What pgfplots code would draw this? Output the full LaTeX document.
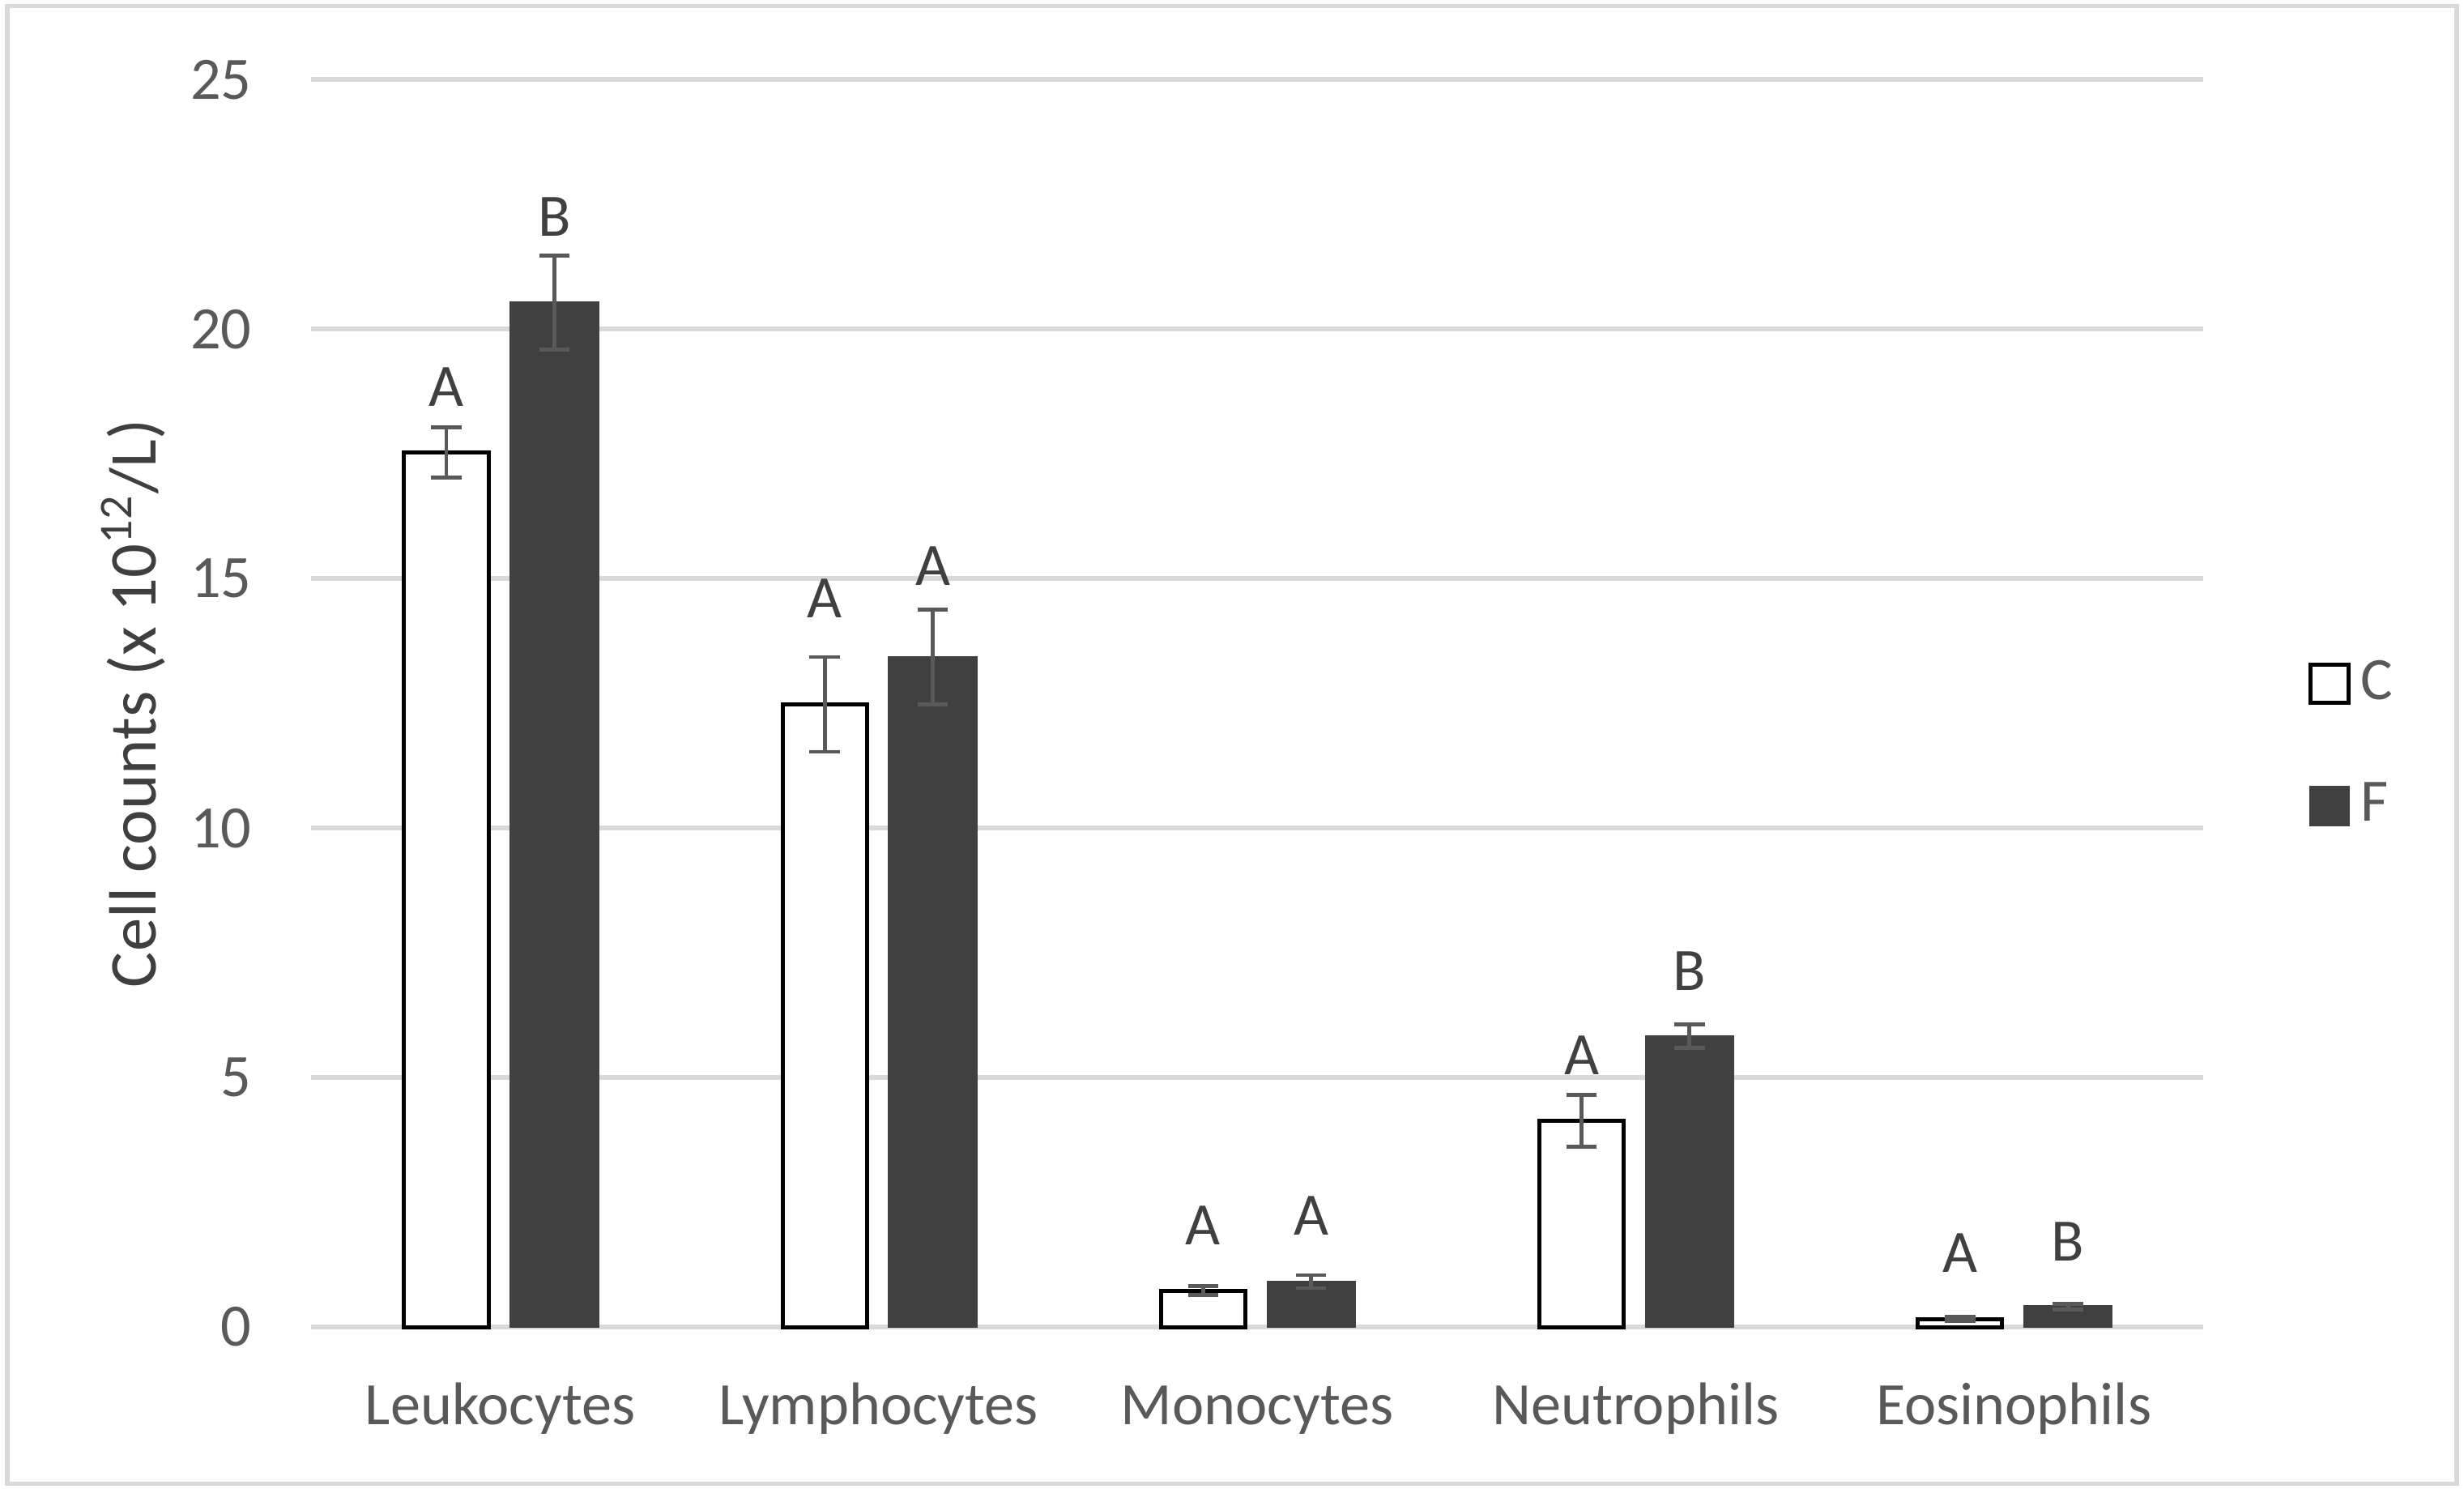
\documentclass[border=0pt]{standalone}
\usepackage{pgfplots}
\pgfplotsset{compat=1.18}
\usepackage{fontspec}
\setmainfont{Carlito}

\definecolor{gridgray}{HTML}{D9D9D9}
\definecolor{ticktxt}{HTML}{595959}
\definecolor{darkbar}{HTML}{404040}
\definecolor{errgray}{HTML}{595959}
\definecolor{ylab}{HTML}{3F3F3F}

\newcommand{\lblfont}{\fontsize{10.7}{12.8}\selectfont}

\pgfplotsset{
  sqlegend/.style={legend image code/.code={\draw[##1] (0pt,-3.4pt) rectangle (6.8pt,3.4pt);}},
  errs/.style={
    error bars/.cd, y dir=both, y explicit,
    error bar style={errgray, line width=0.7pt},
    error mark options={rotate=90, errgray, mark size=2.7pt, line width=0.7pt}
  }
}

\begin{document}
\begin{tikzpicture}
\path[use as bounding box] (0,0) rectangle (438pt,264.64pt);
\draw[gridgray, line width=0.75pt] (1.3pt,0.9pt) rectangle (436.7pt,263.6pt);
\begin{axis}[
  at={(55.29pt,28.79pt)}, anchor=south west,
  scale only axis, width=336.35pt, height=221.67pt,
  ybar,
  xmin=-0.5, xmax=4.5, ymin=0, ymax=25,
  xtick={0,...,4},
  xticklabels={Leukocytes,Lymphocytes,Monocytes,Neutrophils,Eosinophils},
  ytick={0,5,...,25},
  axis line style={draw=none},
  major tick length=0pt,
  ymajorgrids, grid style={gridgray, line width=0.86pt},
  /pgf/number format/assume math mode=true,
  tick label style={font=\lblfont, text=ticktxt},
  yticklabel style={anchor=east, inner sep=0pt, xshift=-10.4pt},
  xticklabel style={anchor=base, inner sep=0pt, yshift=-17.3pt},
  ylabel={Cell counts (x 10\textsuperscript{12}/L)},
  ylabel style={at={(axis description cs:-0.0818,0.5)}, anchor=base,
    font=\fontsize{11.9}{14}\selectfont, text=ylab},
  legend style={at={(1.0549,0.4667)}, anchor=west, draw=none, fill=none,
    inner sep=0pt, row sep=13.3pt,
    nodes={inner sep=0pt, text=ticktxt, font=\lblfont}},
  legend cell align=left,
  clip=false,
]
% C: control
\addplot[sqlegend, bar width=15.0pt, bar shift=-9.6pt, fill=white, draw=black,
  line width=0.72pt, errs] coordinates {
  (0,17.53) +- (0,0.50)
  (1,12.48) +- (0,0.95)
  (2,0.73)  +- (0,0.09)
  (3,4.13)  +- (0,0.52)
  (4,0.16)  +- (0,0.04)
};
\addlegendentry{\,C}
% F
\addplot[sqlegend, bar width=15.5pt, bar shift=9.6pt, fill=darkbar, draw=darkbar,
  line width=0.4pt, errs] coordinates {
  (0,20.53) +- (0,0.94)
  (1,13.43) +- (0,0.95)
  (2,0.91)  +- (0,0.13)
  (3,5.83)  +- (0,0.23)
  (4,0.41)  +- (0,0.06)
};
\addlegendentry{\,F}

% significance letters
\begin{scope}[every node/.style={anchor=base, inner sep=0pt, font=\lblfont, text=darkbar}]
\node[xshift=-9.6pt] at (axis cs:0,18.46) {A};
\node[xshift=9.6pt]  at (axis cs:0,21.87) {B};
\node[xshift=-9.6pt] at (axis cs:1,14.22) {A};
\node[xshift=9.6pt]  at (axis cs:1,14.87) {A};
\node[xshift=-9.6pt] at (axis cs:2,1.65) {A};
\node[xshift=9.6pt]  at (axis cs:2,1.84) {A};
\node[xshift=-9.6pt] at (axis cs:3,5.06) {A};
\node[xshift=9.6pt]  at (axis cs:3,6.74) {B};
\node[xshift=-9.6pt] at (axis cs:4,1.09) {A};
\node[xshift=9.6pt]  at (axis cs:4,1.32) {B};
\end{scope}
\end{axis}
\end{tikzpicture}
\end{document}
